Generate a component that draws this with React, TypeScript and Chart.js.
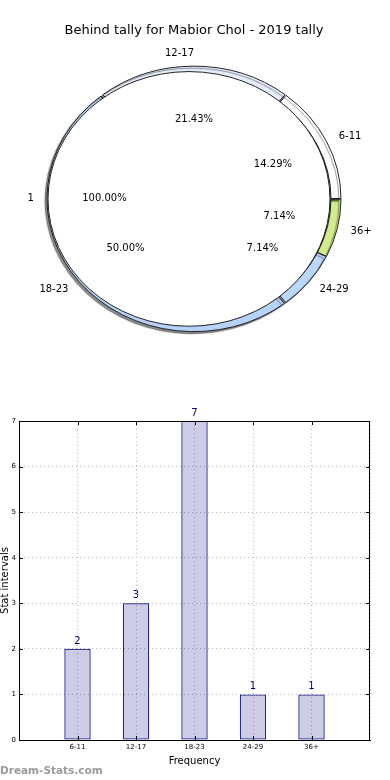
import React, { useEffect, useRef } from "react";
import { Chart, registerables } from "chart.js";

Chart.register(...registerables);

// ---- data ----
const TITLE = "Behind tally for Mabior Chol - 2019 tally";
const RING_LABELS = ["6-11", "12-17", "18-23", "24-29", "36+"];
const RING_VALUES = [2, 3, 7, 1, 1];
const RING_COLORS = ["#ffffff", "#e6edfc", "#b6d2f8", "#bad8fc", "#d2eb8c"];
const INNER_LABELS = ["1"];
const INNER_VALUES = [14];
const INNER_COLORS = ["#ffffff"];

const BAR_CATEGORIES = ["6-11", "12-17", "18-23", "24-29", "36+"];
const BAR_VALUES = [2, 3, 7, 1, 1];
const Y_MIN = 0;
const Y_MAX = 7;
const X_TITLE = "Frequency";
const Y_TITLE = "Stat intervals";
const WATERMARK = "Dream-Stats.com";

// ---- style ----
const FONT = "'DejaVu Sans', sans-serif";
const Y_SCALE = 0.903; // elliptical look of the pie
const INNER_SHIFT_X = -5;
const INNER_RADIUS_PX = 141;

const pieDecor = {
  id: "pieDecor",
  beforeDatasetsDraw(chart: any) {
    const el = chart.getDatasetMeta(0).data[0];
    const ctx = chart.ctx;
    ctx.save();
    ctx.translate(el.x, el.y);
    ctx.scale(1, Y_SCALE);
    ctx.translate(-el.x, -el.y);
  },
  beforeDatasetDraw(chart: any, args: any) {
    const ctx = chart.ctx;
    ctx.save();
    if (args.index === 0) {
      ctx.shadowColor = "rgba(0,0,0,0.45)";
      ctx.shadowOffsetX = -2;
      ctx.shadowOffsetY = 2;
      ctx.shadowBlur = 1;
    } else {
      ctx.translate(INNER_SHIFT_X, 0);
    }
  },
  afterDatasetDraw(chart: any) {
    chart.ctx.restore();
  },
  afterDatasetsDraw(chart: any) {
    chart.ctx.restore();
  },
  afterDraw(chart: any) {
    const ctx = chart.ctx;
    ctx.save();
    ctx.font = `10px ${FONT}`;
    ctx.fillStyle = "#000";
    ctx.textBaseline = "middle";
    chart.data.datasets.forEach((ds: any, di: number) => {
      const meta = chart.getDatasetMeta(di);
      const data = ds.data as number[];
      const total = data.reduce((a, b) => a + b, 0);
      const shift = di === 1 ? INNER_SHIFT_X : 0;
      meta.data.forEach((el: any, i: number) => {
        const mid = (el.startAngle + el.endAngle) / 2;
        const dx = Math.cos(mid);
        const dy = Math.sin(mid);
        const R = el.outerRadius;
        const lr = 1.1 * R;
        const pr = 0.6 * R;
        const cx = el.x + shift;
        const cy = el.y;
        ctx.textAlign = dx > 1e-6 ? "left" : "right";
        ctx.fillText(ds.labels[i], cx + lr * dx, cy + lr * dy * Y_SCALE);
        ctx.textAlign = "center";
        ctx.fillText(((data[i] / total) * 100).toFixed(2) + "%", cx + pr * dx, cy + pr * dy * Y_SCALE);
      });
    });
    ctx.restore();
  },
};

const barDecor = {
  id: "barDecor",
  afterDraw(chart: any) {
    const ctx = chart.ctx;
    const { left, right, top, bottom } = chart.chartArea;
    ctx.save();
    ctx.strokeStyle = "#000";
    ctx.lineWidth = 1;
    ctx.strokeRect(Math.round(left) + 0.5, Math.round(top) + 0.5, Math.round(right - left) - 1, Math.round(bottom - top));
    const ys = chart.scales.y;
    const xs = chart.scales.x;
    ctx.beginPath();
    ys.ticks.forEach((_t: any, i: number) => {
      const py = Math.round(ys.getPixelForTick(i)) + 0.5;
      ctx.moveTo(left, py);
      ctx.lineTo(left + 4, py);
      ctx.moveTo(right, py);
      ctx.lineTo(right - 4, py);
    });
    xs.ticks.forEach((t: any, i: number) => {
      if (!xs.getLabelForValue(t.value)) return;
      const px = Math.round(xs.getPixelForTick(i)) + 0.5;
      ctx.moveTo(px, bottom);
      ctx.lineTo(px, bottom - 4);
      ctx.moveTo(px, top);
      ctx.lineTo(px, top + 4);
    });
    ctx.stroke();
    const meta = chart.getDatasetMeta(0);
    const data = chart.data.datasets[0].data;
    ctx.font = `10px ${FONT}`;
    ctx.fillStyle = "#000080";
    ctx.textAlign = "center";
    ctx.textBaseline = "alphabetic";
    meta.data.forEach((el: any, i: number) => {
      const v = data[i];
      if (v === null || v === undefined) return;
      ctx.fillText(String(v), el.x, el.y - 5);
    });
    ctx.restore();
  },
};

export default function App() {
  const pieRef = useRef<HTMLCanvasElement>(null);
  const barRef = useRef<HTMLCanvasElement>(null);

  useEffect(() => {
    document.body.style.margin = "0";
    const ringData = [...RING_VALUES].reverse();
    const ringLabels = [...RING_LABELS].reverse();
    const ringColors = [...RING_COLORS].reverse();
    const circleLen = 2 * Math.PI * INNER_RADIUS_PX;

    const pie = new Chart(pieRef.current as HTMLCanvasElement, {
      type: "doughnut",
      data: {
        labels: ringLabels,
        datasets: [
          {
            labels: ringLabels,
            data: ringData,
            backgroundColor: ringColors,
            borderColor: "#1a1a1a",
            borderWidth: 1,
            spacing: 2,
            radius: 146,
            cutout: "86.3%",
            weight: 1,
            order: 1,
          } as any,
          {
            labels: INNER_LABELS,
            data: INNER_VALUES,
            backgroundColor: INNER_COLORS,
            borderColor: "#1a1a1a",
            borderWidth: 1,
            // only the rim is stroked, not the radial edge of the single full slice
            borderDash: [circleLen - 0.3, 100000],
            radius: INNER_RADIUS_PX * 2,
            cutout: 0,
            weight: 1,
            order: 0,
          } as any,
        ],
      },
      options: {
        responsive: false,
        animation: false,
        rotation: 90,
        layout: { padding: { left: 0, right: 2, top: 0, bottom: 50.8 } },
        plugins: {
          legend: { display: false },
          tooltip: { enabled: false },
          title: {
            display: true,
            text: TITLE,
            color: "#000",
            font: { family: FONT, size: 13, weight: "normal" },
            padding: { top: 23, bottom: 10 },
          },
        },
      } as any,
      plugins: [pieDecor],
    });

    const bar = new Chart(barRef.current as HTMLCanvasElement, {
      type: "bar",
      data: {
        labels: ["", ...BAR_CATEGORIES, ""],
        datasets: [
          {
            data: [null, ...BAR_VALUES, null],
            backgroundColor: "rgba(0,0,128,0.2)",
            borderColor: "#000080",
            borderWidth: 1,
            borderSkipped: false,
            barPercentage: 0.45,
            categoryPercentage: 1,
          } as any,
        ],
      },
      options: {
        responsive: false,
        animation: false,
        layout: { padding: { left: 0, right: 20, top: 21, bottom: 0 } },
        plugins: { legend: { display: false }, tooltip: { enabled: false } },
        scales: {
          x: {
            offset: false,
            grid: { offset: false, color: "#b8b8b8", lineWidth: 1, drawTicks: false },
            border: { display: true, color: "#000", dash: [1, 3] },
            ticks: { color: "#000", font: { family: FONT, size: 7 }, padding: 3, maxRotation: 0, autoSkip: false },
            title: { display: true, text: X_TITLE, color: "#000", font: { family: FONT, size: 10 }, padding: { top: 0, bottom: 13 } },
            afterFit: (s: any) => {
              s.height = 40;
            },
          },
          y: {
            min: Y_MIN,
            max: Y_MAX,
            grid: { color: "#b8b8b8", lineWidth: 1, drawTicks: false },
            border: { display: true, color: "#000", dash: [1, 3] },
            ticks: { stepSize: 1, color: "#000", font: { family: FONT, size: 7 }, padding: 3 },
            title: { display: true, text: Y_TITLE, color: "#000", font: { family: FONT, size: 10 }, padding: { top: -1, bottom: 0 } },
            afterFit: (s: any) => {
              s.width = 19;
            },
          },
        },
      } as any,
      plugins: [barDecor],
    });

    return () => {
      pie.destroy();
      bar.destroy();
    };
  }, []);

  return (
    <div style={{ position: "relative", width: 390, height: 780, background: "#fff", overflow: "hidden" }}>
      <canvas ref={pieRef} width={390} height={400} style={{ position: "absolute", left: 0, top: 0 }} />
      <canvas ref={barRef} width={390} height={380} style={{ position: "absolute", left: 0, top: 400 }} />
      <div
        style={{
          position: "absolute",
          left: 0,
          top: 763,
          fontFamily: FONT,
          fontSize: 10.5,
          fontWeight: "bold",
          color: "#9a9a9a",
          lineHeight: "14px",
          whiteSpace: "nowrap",
        }}
      >
        {WATERMARK}
      </div>
    </div>
  );
}
